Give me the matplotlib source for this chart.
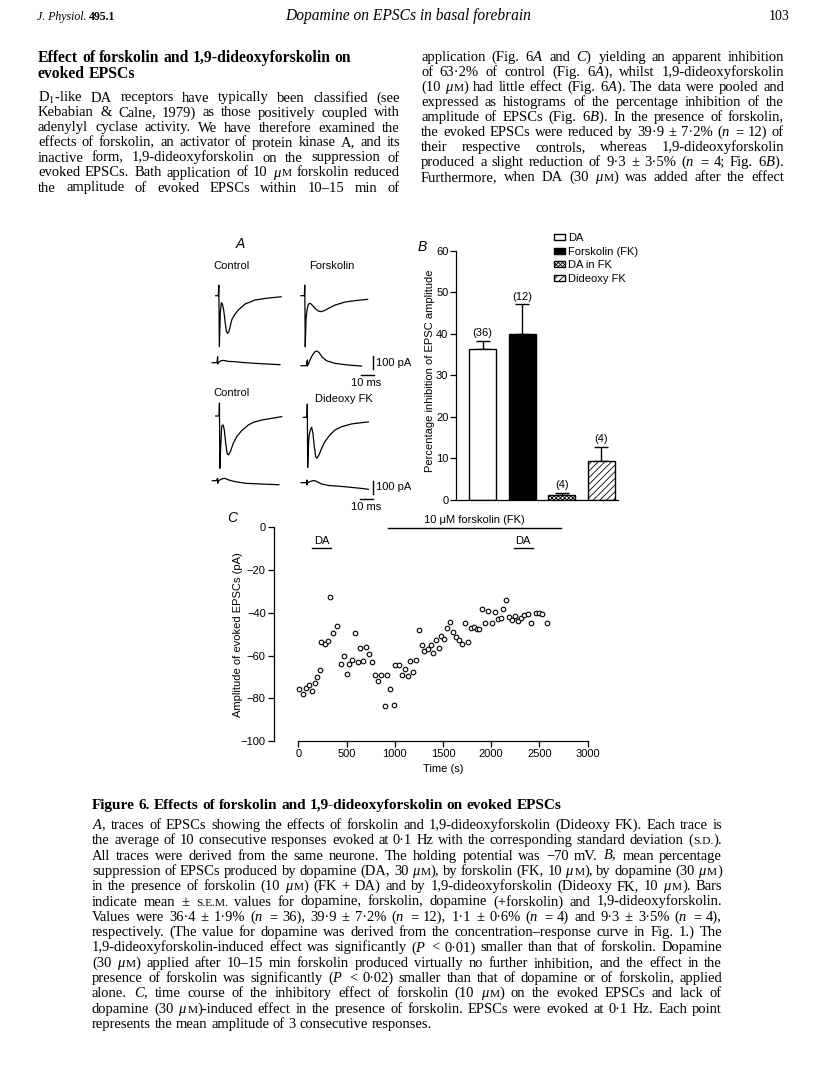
import numpy as np
import matplotlib
matplotlib.use('Agg')
import matplotlib.pyplot as plt

plt.rcParams['font.family'] = ['Liberation Sans', 'DejaVu Sans']
plt.rcParams['mathtext.fontset'] = 'custom'
plt.rcParams['mathtext.rm'] = 'Liberation Serif'
plt.rcParams['mathtext.it'] = 'Liberation Serif:italic'
plt.rcParams['mathtext.bf'] = 'Liberation Serif:bold'
plt.rcParams['hatch.linewidth'] = 0.6

# ---------------- data: panel A traces (ms from sweep start, pA from baseline) ----
ctrl1_t = [0, 2.1, 2.5, 2.9, 3.7, 4.5, 5.3, 6.4, 7.5, 8.5, 9.4, 10.4, 11.5, 12.8, 15.2, 18.1, 23.5, 31.5, 39.5, 52.3]
ctrl1_i = [0, 0, 82, -393, -130, -54, -62, -110, -200, -270, -290, -280, -240, -187, -145, -110, -64, -33, -21, -8]
ctrl1_sd_t = [0, 3.7, 4.3, 4.3, 4.8, 6.9, 8.8, 12.8, 18.1, 26.1, 39.5, 54.1]
ctrl1_sd_i = [0, 0, 46, -10, 0, 15, 18, 10, 8, 0, -8, -15]

fsk_t = [0, 2.7, 3.0, 3.4, 4.0, 4.8, 5.9, 7.5, 9.1, 11.2, 13.9, 16.0, 18.7, 21.9, 27.2, 35.2, 43.2, 53.3]
fsk_i = [0, 0, 82, -393, -180, -110, -64, -59, -74, -98, -118, -123, -115, -98, -72, -49, -38, -28]
fsk_sd_t = [0, 4.3, 5.1, 5.1, 5.6, 7.2, 9.1, 11.2, 13.1, 14.9, 17.1, 20.5, 27.2, 37.9, 48.5]
fsk_sd_i = [0, 0, 44, -3, 5, 44, 82, 108, 113, 95, 64, 38, 18, 5, -3]

ctrl2_t = [0, 2.7, 3.0, 3.3, 3.9, 4.8, 5.9, 6.9, 8.0, 9.1, 10.1, 11.7, 14.1, 16.8, 20.8, 26.1, 30.1, 36.8, 44.8, 52.8]
ctrl2_i = [0, 0, 100, -403, -262, -77, -69, -108, -210, -287, -300, -275, -210, -159, -113, -69, -49, -31, -18, -5]
ctrl2_sd_t = [0, 3.2, 4.3, 4.3, 4.8, 5.9, 8.0, 10.1, 13.3, 18.7, 26.7, 40.0, 53.3]
ctrl2_sd_i = [0, 0, 18, -20, 0, 5, 15, 18, 5, -8, -20, -26, -31]

ddfk_t = [0, 2.9, 3.2, 3.5, 4.0, 4.5, 5.6, 6.7, 7.7, 8.8, 9.9, 10.9, 12.5, 14.7, 17.3, 21.3, 25.3, 30.7, 38.7, 46.7, 52.0]
ddfk_i = [0, 0, 102, -385, -250, -149, -98, -77, -123, -226, -303, -316, -290, -239, -187, -136, -98, -72, -51, -41, -36]
ddfk_sd_t = [0, 4.3, 4.8, 4.8, 5.3, 7.2, 9.1, 11.2, 13.3, 16.5, 21.9, 35.2, 48.5, 53.9]
ddfk_sd_i = [0, 0, 21, -18, 0, 8, 15, 15, 5, -10, -21, -31, -44, -51]

scale_ms = 10
scale_pA = 100

# ---------------- data: panel B ----------------
groups = ['DA', 'Forskolin (FK)', 'DA in FK', 'Dideoxy FK']
inhib_mean = [36.4, 39.9, 1.1, 9.3]
inhib_sem = [1.9, 7.2, 0.6, 3.5]
n_cells = [36, 12, 4, 4]
b_ticks = [0, 10, 20, 30, 40, 50, 60]

# ---------------- data: panel C ----------------
time_s = [10, 52, 79, 110, 138, 169, 194, 221, 238, 273, 308, 328, 363, 404, 439, 470, 505, 529, 560, 588,
          619, 643, 674, 702, 733, 764, 798, 829, 861, 899, 923, 954, 992, 1006, 1044, 1075, 1103, 1134,
          1161, 1192, 1220, 1248, 1279, 1306, 1341, 1372, 1400, 1427, 1455, 1483, 1514, 1545, 1573, 1600,
          1631, 1662, 1697, 1724, 1759, 1790, 1818, 1849, 1877, 1901, 1939, 1970, 2011, 2039, 2070, 2101,
          2125, 2153, 2181, 2215, 2246, 2277, 2305, 2343, 2377, 2412, 2461, 2499, 2530, 2575]
amp_pA = [-75.5, -78, -75, -74, -76.5, -73, -70, -66.6, -53.5, -54.8, -53.4, -32.8, -49.6, -46.3, -63.8,
          -60.2, -68.8, -64, -62, -49.3, -63, -56.6, -62.4, -56, -59.3, -62.9, -69.1, -72.1, -69.1, -83.8,
          -69, -75.8, -83.2, -64.6, -64.6, -69.3, -66.1, -69.7, -62.4, -67.5, -61.9, -47.9, -55.1, -57.7,
          -56.9, -55.2, -59, -52.9, -56.3, -50.7, -52.1, -47.1, -44.5, -49.1, -51.5, -52.7, -54.6, -44.6,
          -53.6, -47.3, -46.6, -47.7, -47.7, -38.1, -44.6, -39.2, -44.8, -39.6, -42.9, -42.6, -38.1, -34,
          -42, -43.5, -41.3, -44, -42.6, -41, -40.7, -44.9, -40.1, -40.1, -40.6, -44.8]
fk_period = (933, 2723)
da_periods = [(138, 339), (2236, 2429)]
c_xticks = [0, 500, 1000, 1500, 2000, 2500, 3000]
c_yticks = [-100, -80, -60, -40, -20, 0]

# ---------------- text ----------------
left_heading = ["Effect of forskolin and 1,9-dideoxyforskolin on", "evoked EPSCs"]
left_body = [
    "D$_1$-like DA receptors have typically been classified (see",
    "Kebabian & Calne, 1979) as those positively coupled with",
    "adenylyl cyclase activity. We have therefore examined the",
    "effects of forskolin, an activator of protein kinase A, and its",
    "inactive form, 1,9-dideoxyforskolin on the suppression of",
    "evoked EPSCs. Bath application of 10 $\\mu$§M§ forskolin reduced",
    "the amplitude of evoked EPSCs within 10–15 min of",
]
right_body = [
    "application (Fig. 6$A$ and $C$) yielding an apparent inhibition",
    "of 63·2% of control (Fig. 6$A$), whilst 1,9-dideoxyforskolin",
    "(10 $\\mu$§M§) had little effect (Fig. 6$A$). The data were pooled and",
    "expressed as histograms of the percentage inhibition of the",
    "amplitude of EPSCs (Fig. 6$B$). In the presence of forskolin,",
    "the evoked EPSCs were reduced by 39·9 ± 7·2% ($n$ = 12) of",
    "their respective controls, whereas 1,9-dideoxyforskolin",
    "produced a slight reduction of 9·3 ± 3·5% ($n$ = 4; Fig. 6$B$).",
    "Furthermore, when DA (30 $\\mu$§M§) was added after the effect",
]
caption_title = "Figure 6. Effects of forskolin and 1,9-dideoxyforskolin on evoked EPSCs"
caption_body = [
    "$A$, traces of EPSCs showing the effects of forskolin and 1,9-dideoxyforskolin (Dideoxy FK). Each trace is",
    "the average of 10 consecutive responses evoked at 0·1 Hz with the corresponding standard deviation (§S.D.§).",
    "All traces were derived from the same neurone. The holding potential was −70 mV. $B$, mean percentage",
    "suppression of EPSCs produced by dopamine (DA, 30 $\\mu$§M§), by forskolin (FK, 10 $\\mu$§M§), by dopamine (30 $\\mu$§M§)",
    "in the presence of forskolin (10 $\\mu$§M§) (FK + DA) and by 1,9-dideoxyforskolin (Dideoxy FK, 10 $\\mu$§M§). Bars",
    "indicate mean ± §S.E.M.§ values for dopamine, forskolin, dopamine (+forskolin) and 1,9-dideoxyforskolin.",
    "Values were 36·4 ± 1·9% ($n$ = 36), 39·9 ± 7·2% ($n$ = 12), 1·1 ± 0·6% ($n$ = 4) and 9·3 ± 3·5% ($n$ = 4),",
    "respectively. (The value for dopamine was derived from the concentration–response curve in Fig. 1.) The",
    "1,9-dideoxyforskolin-induced effect was significantly ($P$ < 0·01) smaller than that of forskolin. Dopamine",
    "(30 $\\mu$§M§) applied after 10–15 min forskolin produced virtually no further inhibition, and the effect in the",
    "presence of forskolin was significantly ($P$ < 0·02) smaller than that of dopamine or of forskolin, applied",
    "alone. $C$, time course of the inhibitory effect of forskolin (10 $\\mu$§M§) on the evoked EPSCs and lack of",
    "dopamine (30 $\\mu$§M§)-induced effect in the presence of forskolin. EPSCs were evoked at 0·1 Hz. Each point",
    "represents the mean amplitude of 3 consecutive responses.",
]

# ---------------- figure ----------------
W, H = 816, 1088
fig = plt.figure(figsize=(W / 100, H / 100), dpi=100)
page = fig.add_axes([0, 0, 1, 1])
page.set_xlim(0, W)
page.set_ylim(H, 0)
page.axis('off')
renderer = fig.canvas.get_renderer()


def box(x0, y0, x1, y1):
    return [x0 / W, 1 - y1 / H, (x1 - x0) / W, (y1 - y0) / H]


SERIF = 'Liberation Serif'


def make_word(word, size, weight, style):
    arts = []
    for k, p in enumerate(word.split('§')):
        if not p:
            continue
        fs = size * 0.78 if k % 2 else size
        arts.append(page.text(0, 0, p, fontsize=fs, family=SERIF, weight=weight,
                              style=style, ha='left', va='baseline'))
    return arts


def width_of(arts):
    return sum(a.get_window_extent(renderer).width for a in arts)


def fit_size(lines, width, weight='normal', ref=10.0, cap=10.5):
    best = cap
    for line in lines:
        words = [make_word(w, ref, weight, 'normal') for w in line.split(' ')]
        nat = sum(width_of(a) for a in words) + (len(words) - 1) * 0.25 * ref * 100 / 72
        for arts in words:
            for a in arts:
                a.remove()
        best = min(best, ref * width / nat)
    return best


def set_line(line, x0, x1, y, size, weight='normal', style='normal', justify=True):
    words = [make_word(w, size, weight, style) for w in line.split(' ')]
    ws = [width_of(a) for a in words]
    space = 0.25 * size * 100 / 72
    gap = (x1 - x0 - sum(ws)) / (len(words) - 1) if (justify and len(words) > 1) else space
    x = x0
    for arts, w in zip(words, ws):
        xx = x
        for a in arts:
            a.set_position((xx, y))
            xx += a.get_window_extent(renderer).width
        x += w + gap


# header
t1 = page.text(37, 20, 'J. Physiol.', family=SERIF, style='italic', fontsize=8.5, va='baseline')
w1 = t1.get_window_extent(renderer).width
page.text(37 + w1 + 2, 20, '495.1', family=SERIF, weight='bold', fontsize=8.5, va='baseline')
page.text(408, 20.5, 'Dopamine on EPSCs in basal forebrain', family=SERIF, style='italic',
          fontsize=11.2, ha='center', va='baseline')
page.text(789, 20.5, '103', family=SERIF, fontsize=10, ha='right', va='baseline')

# columns
LX0, LX1, RX0, RX1 = 38, 400, 421, 784
hs = 11.3
set_line(left_heading[0], LX0, LX1, 61.5, hs, weight='bold', justify=False)
set_line(left_heading[1], LX0, LX1, 77.5, hs, weight='bold', justify=False)
bs = fit_size(left_body[:-1] + right_body, RX1 - RX0)
for k, line in enumerate(left_body):
    set_line(line, LX0, LX1, 101.5 + 15 * k, bs)
for k, line in enumerate(right_body):
    set_line(line, RX0, RX1, 61 + 15 * k, bs)

# caption
CX0, CX1 = 92, 722
set_line(caption_title, CX0, CX1, 809, 11.0, weight='bold', justify=False)
cs = fit_size(caption_body[:-1], CX1 - CX0)
for k, line in enumerate(caption_body):
    set_line(line, CX0, CX1, 829 + 15.3 * k, cs, justify=(k < len(caption_body) - 1))

# ---------------- panel A ----------------
AX0, AY0, AX1, AY1 = 190, 240, 400, 515
MS_PER_PX, PA_PER_PX = 0.8, 7.7
axA = fig.add_axes(box(AX0, AY0, AX1, AY1))
axA.set_xlim(0, (AX1 - AX0) * MS_PER_PX)
axA.set_ylim(0, (AY1 - AY0) * PA_PER_PX)
axA.axis('off')


def origin(xp, yp):
    return (xp - AX0) * MS_PER_PX, (AY1 - yp) * PA_PER_PX


traces = [
    (ctrl1_t, ctrl1_i, 215.7, 295.7), (ctrl1_sd_t, ctrl1_sd_i, 212.3, 362.7),
    (fsk_t, fsk_i, 301, 295.7), (fsk_sd_t, fsk_sd_i, 301, 365.7),
    (ctrl2_t, ctrl2_i, 215.7, 416), (ctrl2_sd_t, ctrl2_sd_i, 212.3, 480.7),
    (ddfk_t, ddfk_i, 303.3, 417.3), (ddfk_sd_t, ddfk_sd_i, 301, 482.7),
]
for tt, ii, xp, yp in traces:
    ox, oy = origin(xp, yp)
    axA.plot(np.array(tt) + ox, np.array(ii) + oy, color='black', lw=0.9)

for vx, vy, hx, hy in [(373.3, 369.3, 361, 375), (373.3, 494, 360, 499)]:
    ox, oy = origin(vx, vy)
    axA.plot([ox, ox], [oy, oy + scale_pA], color='black', lw=1.0)
    ox, oy = origin(hx, hy)
    axA.plot([ox, ox + scale_ms], [oy, oy], color='black', lw=1.0)

page.text(240, 244, 'A', style='italic', fontsize=10, ha='center', va='center')
page.text(213, 266, 'Control', fontsize=8, ha='left', va='center')
page.text(309, 266, 'Forskolin', fontsize=8, ha='left', va='center')
page.text(213, 393, 'Control', fontsize=8, ha='left', va='center')
page.text(315, 399, 'Dideoxy FK', fontsize=8, ha='left', va='center')
for yv, yt in [(362.5, 383), (487.5, 507)]:
    page.text(375.5, yv, '100 pA', fontsize=8, ha='left', va='center')
    page.text(366, yt, '10 ms', fontsize=8, ha='center', va='center')

# ---------------- panel B ----------------
axB = fig.add_axes(box(456, 250.7, 618, 500))
xs = np.arange(len(groups))
bars = axB.bar(xs, inhib_mean, width=0.675, color=['white', 'black', 'white', 'white'],
               edgecolor='black', linewidth=1.0, zorder=2)
bars.patches[2].set_hatch('xxxxxxxx')
bars.patches[3].set_hatch('/////')
axB.errorbar(xs, inhib_mean, yerr=[np.zeros(len(xs)), inhib_sem], fmt='none', ecolor='black',
             elinewidth=1.0, capsize=5, capthick=1.0, zorder=1)
for x, m, s, n in zip(xs, inhib_mean, inhib_sem, n_cells):
    axB.text(x, m + s + 0.6, f'({n})', ha='center', va='bottom', fontsize=8)
axB.set_xlim(-0.676, 3.42)
axB.set_ylim(0, 60)
axB.set_yticks(b_ticks)
axB.set_xticks([])
for sp in ['top', 'right']:
    axB.spines[sp].set_visible(False)
for sp in ['left', 'bottom']:
    axB.spines[sp].set_linewidth(0.9)
axB.tick_params(axis='y', direction='out', length=4, width=0.9, labelsize=8, pad=1.5)
axB.set_ylabel('Percentage inhibition of EPSC amplitude', fontsize=8)
axB.yaxis.set_label_coords((435 - 456) / 162, 0.52)
page.text(422, 247, 'B', style='italic', fontsize=10, ha='center', va='center')
axB.legend(bars.patches, groups, loc='upper left', bbox_to_anchor=(554 / W, 1 - 233 / H),
           bbox_transform=fig.transFigure, frameon=False, fontsize=8, handlelength=1.0,
           handleheight=0.45, handletextpad=0.25, labelspacing=0.32, borderpad=0, borderaxespad=0)

# ---------------- panel C ----------------
axC = fig.add_axes(box(274, 527.3, 587.7, 741))
axC.plot(time_s, amp_pA, 'o', mfc='white', mec='black', ms=3.3, mew=0.8, clip_on=False, zorder=3)
axC.set_xlim(-252, 3000)
axC.set_ylim(-100, 0)
axC.set_xticks(c_xticks)
axC.set_yticks(c_yticks)
for sp in ['top', 'right']:
    axC.spines[sp].set_visible(False)
axC.spines['left'].set_bounds(-100, 0)
axC.spines['bottom'].set_bounds(0, 3000)
for sp in ['left', 'bottom']:
    axC.spines[sp].set_linewidth(0.9)
axC.tick_params(direction='out', length=4, width=0.9, labelsize=8, pad=2)
axC.set_ylabel('Amplitude of evoked EPSCs (pA)', fontsize=8)
axC.yaxis.set_label_coords((243 - 274) / 313.7, 0.5)
axC.set_xlabel('Time (s)', fontsize=8)
axC.xaxis.set_label_coords(0.539, (741 - 764) / 213.7)
axC.plot(fk_period, [-0.3, -0.3], color='black', lw=1.0, clip_on=False)
axC.text(np.mean(fk_period), 3.2, '10 μM forskolin (FK)', fontsize=8, ha='center', va='center')
for p in da_periods:
    axC.plot(p, [-9.8, -9.8], color='black', lw=1.0, clip_on=False)
    axC.text(np.mean(p), -6.2, 'DA', fontsize=8, ha='center', va='center')
page.text(232, 518, 'C', style='italic', fontsize=10, ha='center', va='center')

fig.savefig('out.png', dpi=100)
